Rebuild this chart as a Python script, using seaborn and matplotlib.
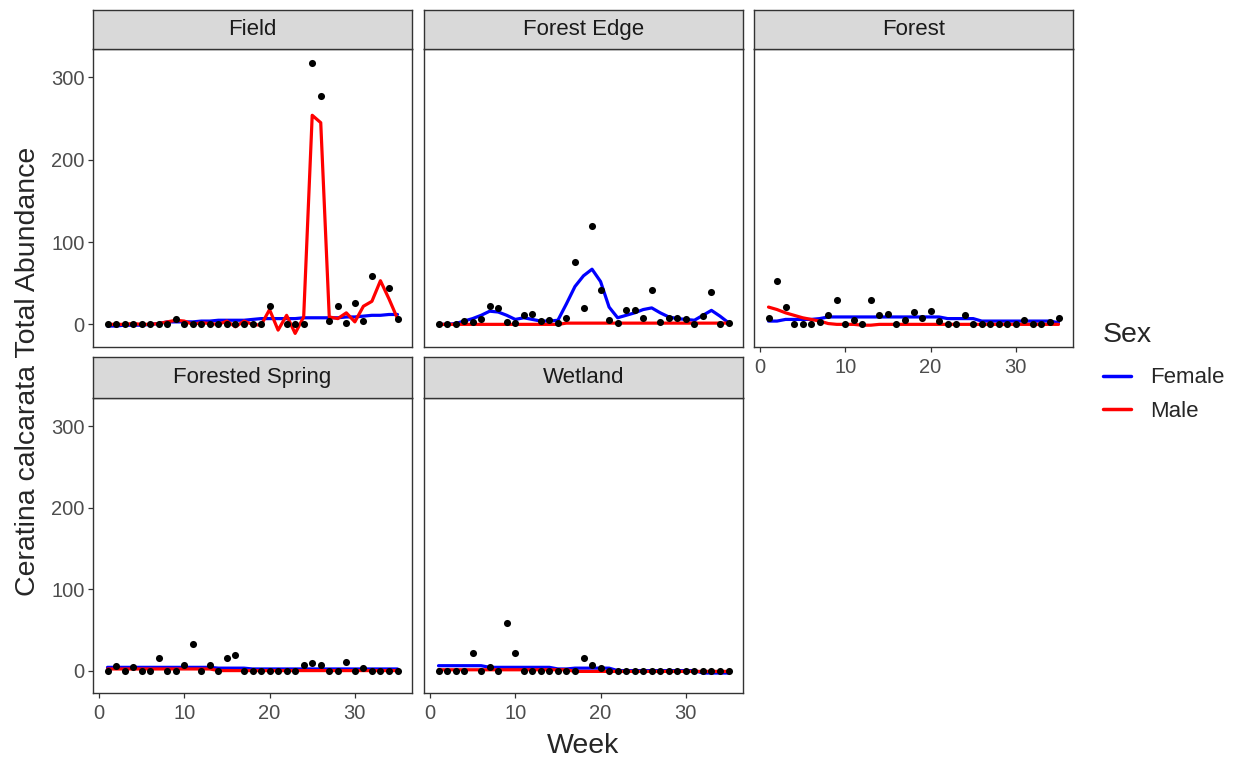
import numpy as np
import pandas as pd
import matplotlib
matplotlib.use("Agg")
import matplotlib.pyplot as plt
from matplotlib.lines import Line2D
import seaborn as sns

# --- data ---
weeks = list(range(1, 36))
sites = ["Field", "Forest Edge", "Forest", "Forested Spring", "Wetland"]
nan = np.nan

# black points: total abundance per week
field_total = [0, 0, 0, 0, 0, 0, 0, 0, 7, 0, 0, 0, 0, 0, 0, 0, 0, 0, 0, 22,
               nan, 0, 0, 0, 318, 277, 4, 22, 2, 26, 4, 59, nan, 44, 6]
edge_total = [0, 0, 0, 4, 3, 6, 22, 20, 3, 2, 11, 13, 4, 5, 2, 8, 76, 20, 119, 42,
              5, 2, 18, 18, 8, 42, 3, 8, 8, 6, 0, 10, 39, 0, 2]
forest_total = [8, 53, 21, 0, 0, 0, 3, 11, 29, 0, 5, 0, 30, 11, 12, 0, 5, 15, 8, 16,
                4, 0, 0, 11, 0, 0, 0, 0, 0, 0, 5, 0, 0, 3, 8]
spring_total = [0, 6, 0, 4, 0, 0, 16, 0, 0, 7, 33, 0, 7, 0, 16, 19, 0, 0, 0, 0,
                0, 0, 0, 7, 9, 7, 0, 0, 11, 0, 3, 0, 0, 0, 0]
wetland_total = [0, 0, 0, 0, 21, 0, 5, 0, 58, 21, 0, 0, 0, 0, 0, 0, 0, 16, 7, 3,
                 0, 0, 0, 0, 0, 0, 0, 0, 0, 0, 0, 0, 0, 0, 0]

# fitted lines per sex
field_female = [-2, -2, -1, -1, -1, 0, 1, 3, 3, 3, 3, 4, 4, 5, 5, 5, 5, 6, 7, 7,
                7, 7, 7, 8, 8, 8, 8, 8, 9, 9, 10, 11, 11, 12, 12]
field_male = [0, 0, 0, 1, 0, 0, 1, 3, 5, 4, 0, 2, 1, 0, 4, -3, 4, 0, -1, 18,
              -7, 11, -11, 9, 254, 245, 9, 7, 14, 3, 22, 28, 53, 31, 7]
edge_female = [0, 0, 1, 4, 7, 11, 16, 15, 11, 6, 8, 6, 4, 4, 5, 25, 46, 59, 67, 52,
               21, 8, 11, 14, 18, 20, 14, 9, 7, 6, 5, 11, 17, 10, 2]
edge_male = [0] * 15 + [1.5] * 20
forest_female = [4, 4, 6, 6, 6, 6, 7] + [9] * 14 + [7] * 4 + [4] * 9 + [2]
forest_male = [21, 18, 14, 11, 8, 6, 4, 1, 0, 0, 0, -1, -1] + [0] * 22
spring_female = [4] * 13 + [3] * 4 + [2] * 18
spring_male = [2] * 13 + [0] * 22
wetland_female = [6] * 6 + [4] * 8 + [2] * 2 + [3] * 5 + [0] * 10 + [-3] * 4
wetland_male = [1] * 16 + [-1] * 19

totals = [field_total, edge_total, forest_total, spring_total, wetland_total]
females = [field_female, edge_female, forest_female, spring_female, wetland_female]
males = [field_male, edge_male, forest_male, spring_male, wetland_male]

pts = pd.concat([pd.DataFrame({"Site": s, "Week": weeks, "Total": t})
                 for s, t in zip(sites, totals)])
fits = pd.concat(
    [pd.DataFrame({"Site": s, "Week": weeks, "Sex": "Female", "Fit": f}) for s, f in zip(sites, females)]
    + [pd.DataFrame({"Site": s, "Week": weeks, "Sex": "Male", "Fit": m}) for s, m in zip(sites, males)]
)

sns.set_style("white")
plt.rcParams["font.family"] = ["Liberation Sans", "DejaVu Sans"]

W, H = 1238, 758
fig = plt.figure(figsize=(W / 100, H / 100), dpi=100)


def box(x0, y0, x1, y1):
    return [x0 / W, 1 - y1 / H, (x1 - x0) / W, (y1 - y0) / H]


col_x = [(93, 412), (424, 743), (754, 1073)]
row_y = [((10, 49), (49, 347)), ((357, 398), (398, 693))]
palette = {"Female": "#0000FF", "Male": "#FF0000"}
border = "#333333"

for i, site in enumerate(sites):
    r, c = divmod(i, 3)
    (sx0, sx1) = col_x[c]
    (st, sb), (pt, pb) = row_y[r]

    ax = fig.add_axes(box(sx0, pt, sx1, pb))
    sns.lineplot(data=fits[fits.Site == site], x="Week", y="Fit", hue="Sex",
                 palette=palette, linewidth=2.3, legend=False, ax=ax)
    sns.scatterplot(data=pts[pts.Site == site], x="Week", y="Total", color="black",
                    s=26, linewidth=0, ax=ax, zorder=3)
    ax.set_xlim(-0.7, 36.7)
    ax.set_ylim(-27.5, 334.5)
    ax.set_xticks([0, 10, 20, 30])
    ax.set_yticks([0, 100, 200, 300])
    ax.set_xlabel("")
    ax.set_ylabel("")
    for sp in ax.spines.values():
        sp.set_color(border)
        sp.set_linewidth(1.0)
    show_x = (r == 1) or (c == 2)
    show_y = (c == 0)
    ax.tick_params(axis="x", bottom=show_x, labelbottom=show_x, length=3.5,
                   width=0.9, color=border, labelsize=14.5, labelcolor="#4D4D4D", pad=4.5)
    ax.tick_params(axis="y", left=show_y, labelleft=show_y, length=3.5,
                   width=0.9, color=border, labelsize=14.5, labelcolor="#4D4D4D", pad=2.5)

    # facet strip
    sax = fig.add_axes(box(sx0, st, sx1, sb))
    sax.set_facecolor("#D9D9D9")
    sax.set_xticks([])
    sax.set_yticks([])
    for sp in sax.spines.values():
        sp.set_color(border)
        sp.set_linewidth(1.0)
    sax.text(0.5, 0.5, site, ha="center", va="center", fontsize=16,
             color="#1A1A1A", transform=sax.transAxes)

fig.text(583 / W, 1 - 746 / H, "Week", ha="center", va="center", fontsize=20.5)
fig.text(28 / W, 1 - 371 / H, "Ceratina calcarata Total Abundance", ha="center",
         va="center", rotation=90, fontsize=20.5)

handles = [Line2D([], [], color=palette[k], linewidth=2.5) for k in ["Female", "Male"]]
leg = fig.legend(handles, ["Female", "Male"], title="Sex", loc="upper left",
                 bbox_to_anchor=(1103 / W, 1 - 322 / H), frameon=False, fontsize=16,
                 title_fontsize=20.5, handlelength=1.25, handletextpad=0.85,
                 labelspacing=0.55, borderpad=0, borderaxespad=0)
leg._legend_box.align = "left"
leg._legend_box.sep = 14

fig.savefig("out.png", dpi=100)
